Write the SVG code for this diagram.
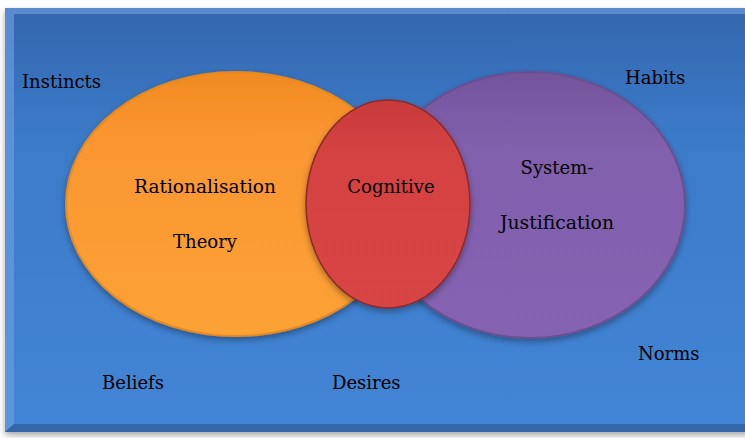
<svg xmlns="http://www.w3.org/2000/svg" width="745" height="438" viewBox="0 0 745 438">
<defs>
<linearGradient id="bg" x1="0" y1="0" x2="0" y2="1">
<stop offset="0" stop-color="#3466ae"/>
<stop offset="0.3" stop-color="#3b7ac8"/>
<stop offset="1" stop-color="#4385d6"/>
</linearGradient>
<linearGradient id="og" x1="0" y1="0" x2="0" y2="1">
<stop offset="0" stop-color="#f08a22"/>
<stop offset="0.25" stop-color="#fa9630"/>
<stop offset="1" stop-color="#fca236"/>
</linearGradient>
<linearGradient id="pg" x1="0" y1="0" x2="0" y2="1">
<stop offset="0" stop-color="#74559c"/>
<stop offset="0.3" stop-color="#8160ad"/>
<stop offset="1" stop-color="#8663b2"/>
</linearGradient>
<linearGradient id="rg" x1="0" y1="0" x2="0" y2="1">
<stop offset="0" stop-color="#c83a3a"/>
<stop offset="0.25" stop-color="#d54242"/>
<stop offset="1" stop-color="#d94444"/>
</linearGradient>
<filter id="sh" x="-10%" y="-10%" width="120%" height="125%">
<feDropShadow dx="0" dy="3" stdDeviation="3" flood-color="#000" flood-opacity="0.35"/>
</filter>
</defs>
<style>
text{font-family:"DejaVu Serif","Liberation Serif",serif;font-size:18px;fill:#000}
</style>
<rect x="0" y="0" width="745" height="438" fill="#ffffff"/>
<g id="background">
<rect x="5" y="8" width="745" height="424" fill="url(#bg)" filter="url(#sh)"/>
<polygon points="5,8 745,8 745,14 14,14 14,424 5,432" fill="#6a9be0" opacity="0.7"/>
<polygon points="5,432 745,432 745,424 14,424" fill="#2f5f9e" opacity="0.8"/>
</g>
<g id="rationalisation">
<ellipse cx="236" cy="204" rx="170" ry="132" fill="url(#og)" stroke="#e8891e" stroke-width="2" filter="url(#sh)"/>
<text x="205" y="193" text-anchor="middle" textLength="142" lengthAdjust="spacingAndGlyphs">Rationalisation</text>
<text x="205" y="248" text-anchor="middle">Theory</text>
</g>
<g id="system-justification">
<ellipse cx="530" cy="205" rx="155" ry="133" fill="url(#pg)" stroke="#6a4f90" stroke-width="2" filter="url(#sh)"/>
<text x="557" y="174" text-anchor="middle">System-</text>
<text x="557" y="229" text-anchor="middle" textLength="114" lengthAdjust="spacingAndGlyphs">Justification</text>
</g>
<g id="cognitive">
<ellipse cx="388" cy="204" rx="82" ry="104" fill="url(#rg)" stroke="#8a2a2a" stroke-width="1.5" filter="url(#sh)"/>
<text x="391" y="193" text-anchor="middle">Cognitive</text>
</g>
<g id="labels">
<text x="22" y="88">Instincts</text>
<text x="625" y="84">Habits</text>
<text x="638" y="360">Norms</text>
<text x="102" y="389">Beliefs</text>
<text x="332" y="389">Desires</text>
</g>
<g id="connectors"></g>
</svg>
